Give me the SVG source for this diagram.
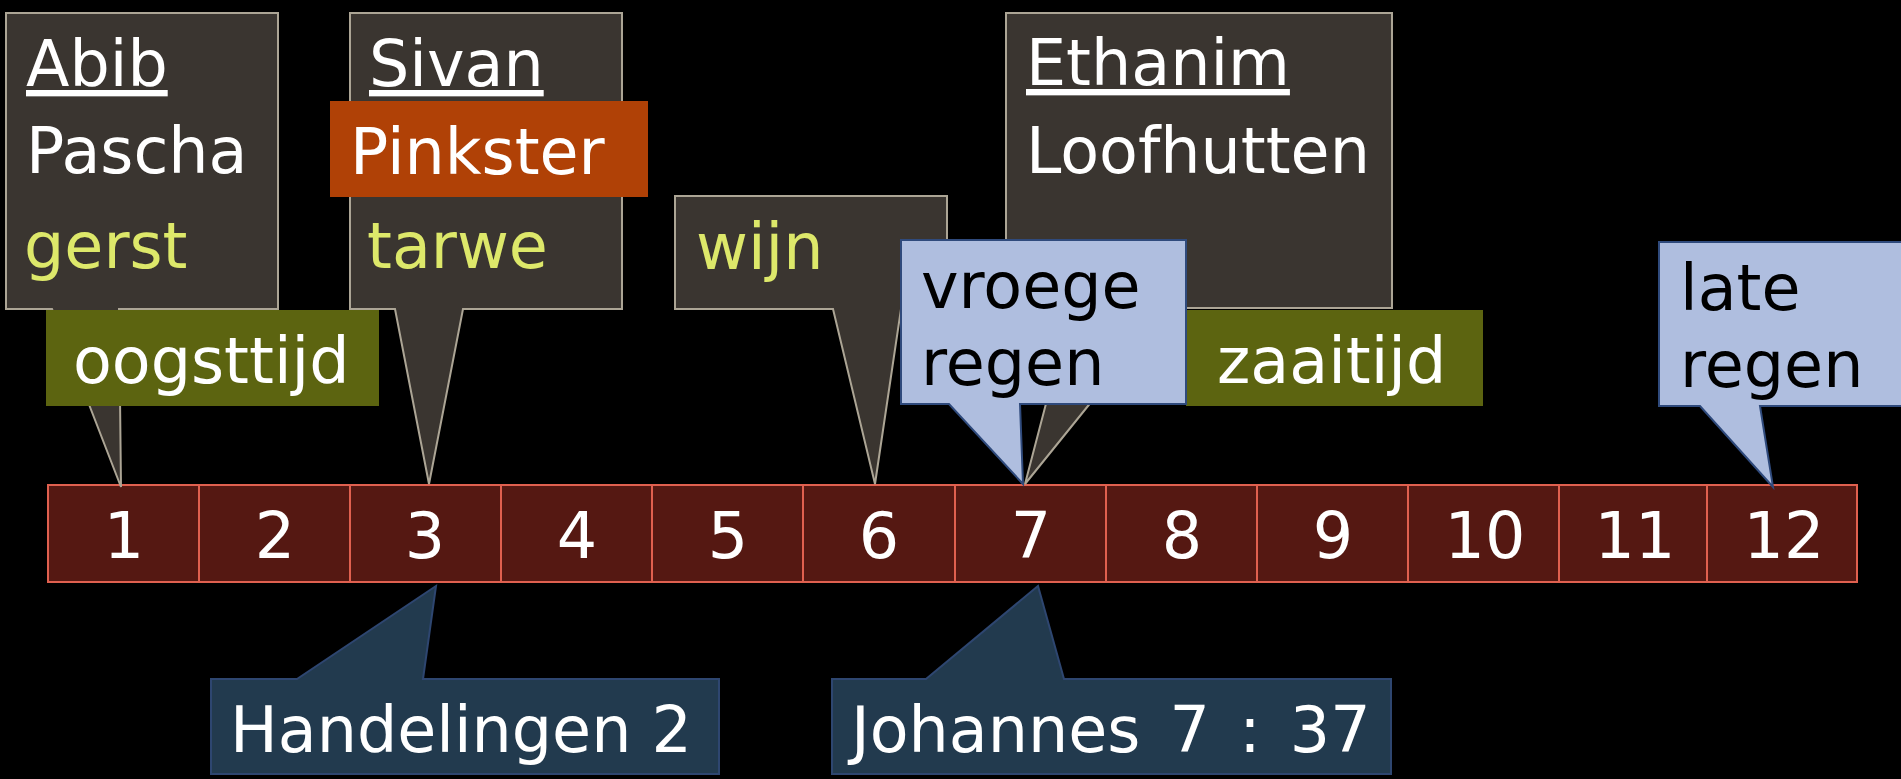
<svg xmlns="http://www.w3.org/2000/svg" width="1901" height="779" viewBox="0 0 1901 779">
<style>
text{font-family:"DejaVu Sans","Verdana",sans-serif;font-size:63.5px;fill:#fff}
.dark{fill:#3a3530;stroke:#aca595;stroke-width:2}
.blue{fill:#afbedf;stroke:#2f4a7c;stroke-width:2}
.navy{fill:#223a4e;stroke:#2e4670;stroke-width:2}
.cell{fill:#551812;stroke:#e0604f;stroke-width:2}
.yel{fill:#dde86a}
.blk{fill:#000}
.u{text-decoration:underline}
</style>
<rect x="0" y="0" width="1901" height="779" fill="#000"/>
<g id="timeline">
<rect class="cell" x="48" y="485" width="151" height="97"/>
<rect class="cell" x="199" y="485" width="151" height="97"/>
<rect class="cell" x="350" y="485" width="151" height="97"/>
<rect class="cell" x="501" y="485" width="151" height="97"/>
<rect class="cell" x="652" y="485" width="151" height="97"/>
<rect class="cell" x="803" y="485" width="152" height="97"/>
<rect class="cell" x="955" y="485" width="151" height="97"/>
<rect class="cell" x="1106" y="485" width="151" height="97"/>
<rect class="cell" x="1257" y="485" width="151" height="97"/>
<rect class="cell" x="1408" y="485" width="151" height="97"/>
<rect class="cell" x="1559" y="485" width="148" height="97"/>
<rect class="cell" x="1707" y="485" width="150" height="97"/>
<g text-anchor="middle">
<text x="124" y="558">1</text>
<text x="275" y="558">2</text>
<text x="425" y="558">3</text>
<text x="577" y="558">4</text>
<text x="728" y="558">5</text>
<text x="879" y="558">6</text>
<text x="1031" y="558">7</text>
<text x="1182" y="558">8</text>
<text x="1333" y="558">9</text>
<text x="1485" y="558">10</text>
<text x="1635" y="558">11</text>
<text x="1784" y="558">12</text>
</g>
</g>
<g id="abib">
<path class="dark" d="M6,13 H278 V309 H119 L121,487 L52,309 H6 Z"/>
<text x="26" y="86" class="u">Abib</text>
<text x="26" y="173">Pascha</text>
<text x="24" y="268" class="yel">gerst</text>
</g>
<g id="sivan">
<path class="dark" d="M350,13 H622 V309 H463 L429,484 L395,309 H350 Z"/>
<text x="369" y="86" class="u">Sivan</text>
<text x="367" y="268" class="yel">tarwe</text>
</g>
<g id="wijn">
<path class="dark" d="M675,196 H947 V309 H901 L875,484 L833,309 H675 Z"/>
<text x="696" y="269" class="yel">wijn</text>
</g>
<g id="ethanim">
<path class="dark" d="M1006,13 H1392 V308 H1167 L1025,484 L1071,308 H1006 Z"/>
<text x="1026" y="85" class="u">Ethanim</text>
<text x="1026" y="173">Loofhutten</text>
</g>
<g id="pinkster">
<rect x="330" y="101" width="318" height="96" fill="#b04106"/>
<text x="350" y="174">Pinkster</text>
</g>
<g id="oogsttijd">
<rect x="46" y="310" width="333" height="96" fill="#5c6410"/>
<text x="73" y="383">oogsttijd</text>
</g>
<g id="zaaitijd">
<rect x="1186" y="310" width="297" height="96" fill="#5c6410"/>
<text x="1217" y="383">zaaitijd</text>
</g>
<g id="vroege-regen">
<path class="blue" d="M901,240 H1186 V404 H1020 L1023,484 L949,404 H901 Z"/>
<text x="921" y="308" class="blk">vroege</text>
<text x="921" y="385" class="blk">regen</text>
</g>
<g id="late-regen">
<path class="blue" d="M1659,242 H1905 V406 H1760 L1773,487 L1700,406 H1659 Z"/>
<text x="1680" y="310" class="blk">late</text>
<text x="1680" y="387" class="blk">regen</text>
</g>
<g id="handelingen">
<path class="navy" d="M211,679 H297 L436,586 L423,679 H719 V774 H211 Z"/>
<text x="230" y="752">Handelingen 2</text>
</g>
<g id="johannes">
<path class="navy" d="M832,679 H926 L1038,586 L1064,679 H1391 V774 H832 Z"/>
<text x="851" y="752" word-spacing="9">Johannes 7 : 37</text>
</g>
</svg>
